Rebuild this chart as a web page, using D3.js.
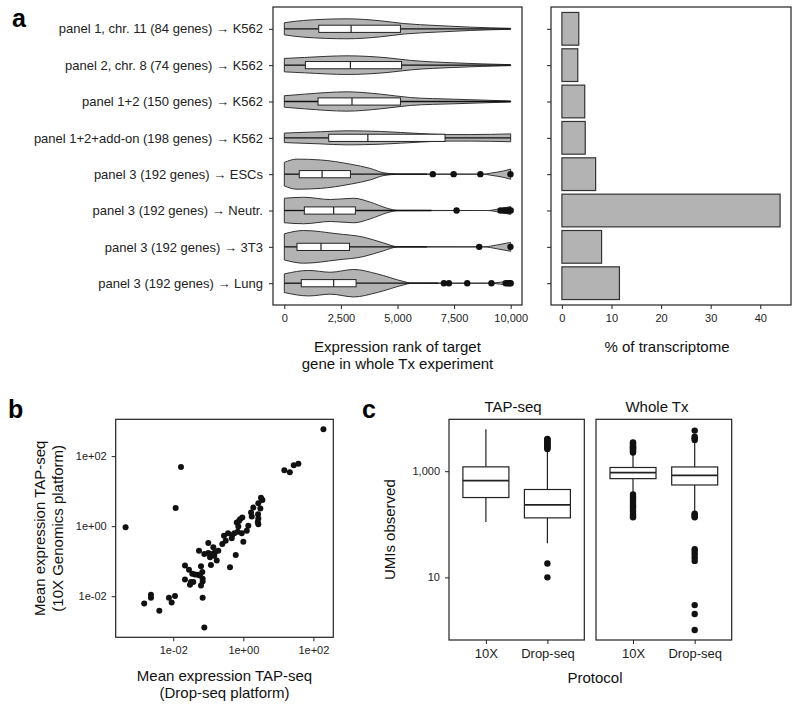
<!DOCTYPE html>
<html><head><meta charset="utf-8">
<script src="https://cdn.jsdelivr.net/npm/d3@7"></script>
<style>
body{margin:0;background:#fff}
svg{display:block}
text{font-family:"Liberation Sans",Arial,Helvetica,sans-serif}
</style>
</head><body>
<svg id="chart" width="800" height="710"></svg>
<script>
// ---------- Panel a data ----------
const categories = [
  "panel 1, chr. 11 (84 genes) \u2192 K562",
  "panel 2, chr. 8 (74 genes) \u2192 K562",
  "panel 1+2 (150 genes) \u2192 K562",
  "panel 1+2+add-on (198 genes) \u2192 K562",
  "panel 3 (192 genes) \u2192 ESCs",
  "panel 3 (192 genes) \u2192 Neutr.",
  "panel 3 (192 genes) \u2192 3T3",
  "panel 3 (192 genes) \u2192 Lung"
];
const transcriptomePct = [3.4, 3.2, 4.6, 4.7, 6.8, 44.0, 8.0, 11.6];
const boxQ1      = [1520, 930, 1490, 1960, 660, 885, 560, 750];
const boxMedian  = [2950, 2920, 2990, 3690, 1670, 2180, 1620, 2180];
const boxQ3      = [5130, 5180, 5130, 7100, 2920, 3140, 2880, 3170];
const whiskerLow = [0, 0, 0, 0, 0, 0, 0, 0];
const whiskerHigh= [10000, 10000, 10000, 10000, 6300, 6500, 6300, 6800];
const rankOutliers = [
  [], [], [], [],
  [6560, 7480, 8660, 9990],
  [7610, 9550, 9700, 9850, 9950, 10000],
  [8610, 9990],
  [7050, 7270, 8080, 9150, 9780, 9880, 9950, 10000]
];
const violinRanks = [
  [0, 855, 2770, 4250, 5280, 6750, 8230, 10000],
  [0, 900, 2770, 4540, 5580, 7490, 10000],
  [0, 900, 2770, 4250, 5580, 7490, 10000],
  [0, 1590, 2770, 4250, 6020, 7120, 8230, 10000],
  [0, 560, 1590, 2920, 3800, 4400, 5000, 8800, 9100, 9700, 10000],
  [0, 855, 2035, 3070, 3800, 4540, 5000, 8970, 9560, 10000],
  [0, 855, 2330, 3510, 4400, 5000, 8800, 9410, 10000],
  [0, 1080, 2035, 3070, 4100, 5280, 5580, 8970, 9560, 10000]
];
const violinDensity = [
  [0.37, 0.51, 0.61, 0.49, 0.32, 0.2, 0.1, 0.03],
  [0.41, 0.47, 0.57, 0.45, 0.29, 0.14, 0.03],
  [0.35, 0.45, 0.59, 0.45, 0.24, 0.14, 0.03],
  [0.29, 0.37, 0.43, 0.39, 0.26, 0.2, 0.2, 0.24],
  [0.72, 0.92, 0.87, 0.61, 0.35, 0.08, 0.01, 0, 0.06, 0.2, 0.31],
  [0.75, 0.81, 0.67, 0.75, 0.51, 0.14, 0.01, 0, 0.12, 0.24],
  [0.8, 1.0, 0.8, 0.59, 0.23, 0.01, 0, 0.12, 0.27],
  [0.57, 0.78, 0.67, 0.84, 0.57, 0.1, 0.01, 0, 0.06, 0.15]
];
const rankTicks = [0, 2500, 5000, 7500, 10000];
const pctTicks = [0, 10, 20, 30, 40];

// ---------- Panel b data ----------
const dropseqMean = [193, 14.8, 21.2, 27.5, 37.3, 0.0166, 0.0117, 0.000436,
  3.2, 3.5, 2.68, 3.06, 1.93, 1.66, 1.74, 2.63, 2.68, 2.58, 2.68, 0.936, 0.753, 0.648, 0.806, 0.72, 1.39,
  0.314, 0.485, 0.553, 0.692, 0.9, 1.25, 0.467, 1.0, 0.607, 0.417,
  0.1, 0.139, 0.251, 0.0542, 0.0769, 0.1, 0.125, 0.155, 0.193, 0.112, 0.148, 0.174, 0.119,
  0.0216, 0.0281, 0.0618, 0.0349, 0.0417, 0.0498, 0.058, 0.0675, 0.0216, 0.032, 0.03, 0.0373,
  0.069, 0.069, 0.0618, 0.00231, 0.00231, 0.00148, 0.00753, 0.0112, 0.009, 0.069, 0.004, 0.0769,
  0.281, 0.366];
const tenxMean = [586, 39.4, 34.5, 54.5, 60.9, 49.1, 3.3, 0.937,
  6.5, 5.56, 4.48, 3.17, 3.39, 2.44, 1.88, 2.19, 1.65, 1.32, 1.14, 1.76, 1.41, 1.27, 1.58, 0.98, 1.02,
  0.384, 0.556, 0.633, 0.69, 0.633, 0.736, 0.449, 0.359, 0.151, 0.0676,
  0.33, 0.249, 0.309, 0.2, 0.161, 0.172, 0.161, 0.18, 0.2, 0.13, 0.144, 0.104, 0.0785,
  0.075, 0.0567, 0.0721, 0.0437, 0.0417, 0.0409, 0.039, 0.049, 0.0302, 0.0254, 0.0214, 0.0254,
  0.0316, 0.0264, 0.0204, 0.0111, 0.0091, 0.0062, 0.0091, 0.0102, 0.0066, 0.009, 0.00384, 0.00129,
  0.531, 0.633];
const logTicksB = [0.01, 1, 100];

// ---------- Panel c data ----------
const facets = ["TAP-seq", "Whole Tx"];
const protocols = ["10X", "Drop-seq"];
const umiFacet    = ["TAP-seq", "TAP-seq", "Whole Tx", "Whole Tx"];
const umiProtocol = ["10X", "Drop-seq", "10X", "Drop-seq"];
const umiLow    = [110, 44, 380, 166];
const umiQ1     = [319, 132, 724, 550];
const umiMedian = [667, 233, 944, 832];
const umiQ3     = [1207, 452, 1175, 1202];
const umiHigh   = [6150, 2570, 2140, 3700];
const umiOutliers = [
  [],
  [2630, 2750, 2880, 3020, 3160, 3310, 3470, 3630, 3800, 3980, 4070, 18.2, 10],
  [2240, 2350, 2460, 2580, 2700, 2830, 2960, 3100, 3240, 3390, 3470,
   363, 331, 302, 275, 251, 229, 209, 191, 174, 158, 145, 135],
  [3890, 4170, 4470, 5820, 158, 150, 143, 136, 34, 30.2, 26.9, 23.4, 20.4, 3.0, 2.04, 1.02]
];
const umiTicks = [10, 1000];

// ---------- Drawing ----------
const svg = d3.select("#chart");
const FRAME = "#222", GREY = "#b3b3b3", TXT = "#222";

function styleAxis(g, size) {
  g.select(".domain").remove();
  g.selectAll(".tick line").attr("stroke", FRAME).attr("stroke-width", 1);
  g.selectAll(".tick text").attr("fill", TXT).style("font-size", size + "px")
    .style("font-family", '"Liberation Sans",Arial,sans-serif');
}
function frame(x0, y0, x1, y1) {
  svg.append("rect").attr("x", x0).attr("y", y0).attr("width", x1 - x0).attr("height", y1 - y0)
    .attr("fill", "none").attr("stroke", FRAME).attr("stroke-width", 1.2);
}
function label(txt, x, y, size, opts = {}) {
  const t = svg.append("text").attr("x", x).attr("y", y).text(txt)
    .style("font-size", size + "px").attr("fill", opts.fill || "#111")
    .attr("text-anchor", opts.anchor || "middle");
  if (opts.bold) t.style("font-weight", "bold");
  if (opts.rotate) t.attr("transform", `rotate(-90,${x},${y})`);
  return t;
}

// Panel a: violins
const aL = 273, aR = 522, aT = 7, aB = 305;
const xA = d3.scaleLinear().domain([-500, 10500]).range([aL, aR]);
const yA = d3.scalePoint().domain(categories).range([aT, aB]).padding(0.6);
const step = yA.step();
const maxHalf = 0.45 * step;

const gV = svg.append("g");
categories.forEach((c, i) => {
  const cy = yA(c);
  const pts = violinRanks[i].map((r, j) => [r, violinDensity[i][j]]);
  const area = d3.area().x(d => xA(d[0]))
    .y0(d => cy + d[1] * maxHalf).y1(d => cy - d[1] * maxHalf)
    .curve(d3.curveMonotoneX);
  gV.append("path").attr("d", area(pts)).attr("fill", GREY)
    .attr("stroke", "#333").attr("stroke-width", 1);
  // whiskers
  gV.append("line").attr("x1", xA(whiskerLow[i])).attr("x2", xA(boxQ1[i]))
    .attr("y1", cy).attr("y2", cy).attr("stroke", "#111").attr("stroke-width", 1.3);
  gV.append("line").attr("x1", xA(boxQ3[i])).attr("x2", xA(whiskerHigh[i]))
    .attr("y1", cy).attr("y2", cy).attr("stroke", "#111").attr("stroke-width", 1.3);
  const bh = 3.6;
  gV.append("rect").attr("x", xA(boxQ1[i])).attr("y", cy - bh)
    .attr("width", xA(boxQ3[i]) - xA(boxQ1[i])).attr("height", 2 * bh)
    .attr("fill", "#fff").attr("stroke", "#222").attr("stroke-width", 1);
  gV.append("line").attr("x1", xA(boxMedian[i])).attr("x2", xA(boxMedian[i]))
    .attr("y1", cy - bh).attr("y2", cy + bh).attr("stroke", "#222").attr("stroke-width", 1.2);
  rankOutliers[i].forEach(v => {
    gV.append("circle").attr("cx", xA(v)).attr("cy", cy).attr("r", 3.2).attr("fill", "#111");
  });
});
frame(aL, aT, aR, aB);
svg.append("g").attr("transform", `translate(0,${aB})`)
  .call(d3.axisBottom(xA).tickValues(rankTicks).tickFormat(d3.format(",")).tickSize(4).tickPadding(5))
  .call(g => styleAxis(g, 11));
svg.append("g").attr("transform", `translate(${aL},0)`)
  .call(d3.axisLeft(yA).tickSize(4).tickPadding(6))
  .call(g => styleAxis(g, 13));
label("Expression rank of target", (aL + aR) / 2, 352, 15);
label("gene in whole Tx experiment", (aL + aR) / 2, 368.5, 15);
label("a", 12, 27, 25, {bold: true, anchor: "start", fill: "#000"});

// Panel a: bars
const bL = 551, bR = 791;
const pMax = d3.max(transcriptomePct);
const xB = d3.scaleLinear().domain([-0.05 * pMax, 1.05 * pMax]).range([bL, bR]);
categories.forEach((c, i) => {
  const cy = yA(c);
  svg.append("rect").attr("x", xB(0)).attr("y", cy - 0.45 * step)
    .attr("width", xB(transcriptomePct[i]) - xB(0)).attr("height", 0.9 * step)
    .attr("fill", GREY).attr("stroke", "#333").attr("stroke-width", 1.2);
});
frame(bL, aT, bR, aB);
svg.append("g").attr("transform", `translate(0,${aB})`)
  .call(d3.axisBottom(xB).tickValues(pctTicks).tickSize(4).tickPadding(5))
  .call(g => styleAxis(g, 11));
svg.append("g").attr("transform", `translate(${bL},0)`)
  .call(d3.axisLeft(yA).tickSize(4).tickFormat(""))
  .call(g => styleAxis(g, 11));
label("% of transcriptome", 667, 352, 15);

// Panel b: scatter
const sL = 115.7, sR = 333.3, sT = 419.3, sB = 637.3;
function logExtent(vals) {
  const l = vals.map(v => Math.log10(v));
  const mn = d3.min(l), mx = d3.max(l), r = mx - mn;
  return [Math.pow(10, mn - 0.05 * r), Math.pow(10, mx + 0.05 * r)];
}
const xS = d3.scaleLog().domain(logExtent(dropseqMean)).range([sL, sR]);
const yS = d3.scaleLog().domain(logExtent(tenxMean)).range([sB, sT]);
const sciFmt = v => { const e = Math.round(Math.log10(v)); return "1e" + (e < 0 ? "-" : "+") + String(Math.abs(e)).padStart(2, "0"); };
dropseqMean.forEach((v, i) => {
  svg.append("circle").attr("cx", xS(v)).attr("cy", yS(tenxMean[i])).attr("r", 3).attr("fill", "#111");
});
frame(sL, sT, sR, sB);
svg.append("g").attr("transform", `translate(0,${sB})`)
  .call(d3.axisBottom(xS).tickValues(logTicksB).tickFormat(sciFmt).tickSize(4).tickPadding(5))
  .call(g => styleAxis(g, 11));
svg.append("g").attr("transform", `translate(${sL},0)`)
  .call(d3.axisLeft(yS).tickValues(logTicksB).tickFormat(sciFmt).tickSize(4).tickPadding(5))
  .call(g => styleAxis(g, 11));
label("Mean expression TAP-seq", (sL + sR) / 2, 681, 15);
label("(Drop-seq platform)", (sL + sR) / 2, 698, 15);
label("Mean expression TAP-seq", 45, (sT + sB) / 2, 15, {rotate: true});
label("(10X Genomics platform)", 63, (sT + sB) / 2, 15, {rotate: true});
label("b", 8, 418, 25, {bold: true, anchor: "start", fill: "#000"});

// Panel c: faceted boxplots
const cT = 419.3, cB = 640;
const facetX = {"TAP-seq": [449, 584.3], "Whole Tx": [596, 731.7]};
const allUmi = [].concat(umiLow, umiHigh, ...umiOutliers);
const yC = d3.scaleLog().domain(logExtent(allUmi)).range([cB, cT]);
const bw = 46;
facets.forEach(f => {
  const [x0, x1] = facetX[f];
  const xC = d3.scalePoint().domain(protocols).range([x0, x1]).padding(0.6);
  umiFacet.forEach((ff, i) => {
    if (ff !== f) return;
    const cx = xC(umiProtocol[i]);
    svg.append("line").attr("x1", cx).attr("x2", cx).attr("y1", yC(umiHigh[i])).attr("y2", yC(umiQ3[i]))
      .attr("stroke", "#222").attr("stroke-width", 1.2);
    svg.append("line").attr("x1", cx).attr("x2", cx).attr("y1", yC(umiQ1[i])).attr("y2", yC(umiLow[i]))
      .attr("stroke", "#222").attr("stroke-width", 1.2);
    svg.append("rect").attr("x", cx - bw / 2).attr("y", yC(umiQ3[i])).attr("width", bw)
      .attr("height", yC(umiQ1[i]) - yC(umiQ3[i])).attr("fill", "#fff")
      .attr("stroke", "#222").attr("stroke-width", 1.2);
    svg.append("line").attr("x1", cx - bw / 2).attr("x2", cx + bw / 2)
      .attr("y1", yC(umiMedian[i])).attr("y2", yC(umiMedian[i]))
      .attr("stroke", "#222").attr("stroke-width", 1.8);
    umiOutliers[i].forEach(v => {
      svg.append("circle").attr("cx", cx).attr("cy", yC(v)).attr("r", 3.2).attr("fill", "#111");
    });
  });
  frame(x0, cT, x1, cB);
  svg.append("g").attr("transform", `translate(0,${cB})`)
    .call(d3.axisBottom(xC).tickSize(4).tickPadding(5))
    .call(g => styleAxis(g, 13));
});
svg.append("g").attr("transform", `translate(${facetX["TAP-seq"][0]},0)`)
  .call(d3.axisLeft(yC).tickValues(umiTicks).tickFormat(d3.format(",")).tickSize(4).tickPadding(5))
  .call(g => styleAxis(g, 11));
label("TAP-seq", 513, 412, 15);
label("Whole Tx", 657, 412, 15);
label("Protocol", 595, 682.5, 15);
label("UMIs observed", 395, (cT + cB) / 2, 15, {rotate: true});
label("c", 362, 418, 25, {bold: true, anchor: "start", fill: "#000"});
</script>
</body></html>
